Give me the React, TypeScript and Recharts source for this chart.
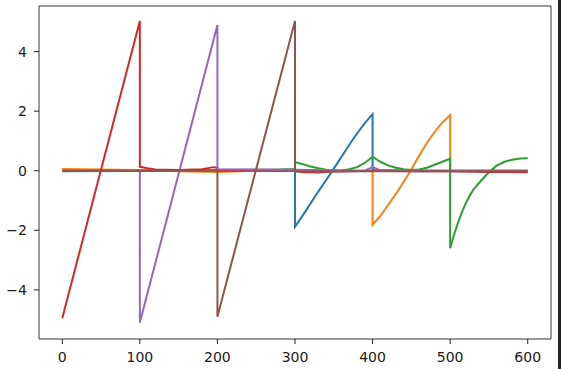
import { LineChart, Line, XAxis, YAxis, ReferenceArea } from 'recharts';

// tick positions and axis limits
const xTicks = [0, 100, 200, 300, 400, 500, 600];
const yTicks = [-4, -2, 0, 2, 4];
const xLim: [number, number] = [-30, 630];
const yLim: [number, number] = [-5.65, 5.53];

// each series as [x, y] points; repeated x = vertical jump
const blue: [number, number][] = [
  [0, -0.02], [100, -0.01], [200, 0], [300, 0],
  [300, -1.88], [310, -1.5], [320, -1.1], [330, -0.7], [340, -0.32], [350, 0.07],
  [360, 0.47], [370, 0.87], [380, 1.25], [390, 1.6], [400, 1.9],
  [400, 0.02], [450, 0], [500, 0], [600, 0],
];
const orange: [number, number][] = [
  [0, 0.06], [50, 0.04], [100, 0.02], [150, -0.02], [200, -0.04], [250, 0], [300, 0], [400, 0],
  [400, -1.82], [410, -1.52], [420, -1.15], [430, -0.78], [440, -0.38], [450, 0.05],
  [460, 0.5], [470, 0.93], [480, 1.3], [490, 1.62], [500, 1.87],
  [500, 0], [600, 0],
];
const green: [number, number][] = [
  [0, 0], [100, 0], [200, 0.02], [280, 0.04], [300, 0.06],
  [300, 0.29], [310, 0.22], [320, 0.14], [330, 0.08], [340, 0.03], [350, 0], [360, 0.01],
  [370, 0.05], [380, 0.12], [390, 0.26], [400, 0.47], [410, 0.3], [420, 0.18], [430, 0.1],
  [440, 0.05], [450, 0.02], [460, 0.04], [470, 0.1], [480, 0.2], [490, 0.3], [500, 0.4],
  [500, -2.6], [505, -2.15], [510, -1.75], [515, -1.4], [520, -1.1], [525, -0.85], [530, -0.63],
  [540, -0.33], [550, -0.05], [560, 0.17], [570, 0.3], [580, 0.37], [590, 0.41], [600, 0.42],
];
const red: [number, number][] = [
  [0, -4.95], [100, 5.03],
  [100, 0.13], [110, 0.08], [120, 0.04], [150, 0.02], [180, 0.05], [195, 0.12], [200, 0.1],
  [200, 0], [250, 0], [300, 0], [310, -0.05], [330, -0.06], [350, -0.03], [370, -0.02],
  [400, 0], [450, -0.02], [500, -0.02], [550, -0.04], [600, -0.05],
];
const purple: [number, number][] = [
  [0, 0], [100, 0],
  [100, -5.1], [200, 4.89],
  [200, 0.05], [300, 0.03], [390, 0], [400, 0.12], [410, 0.02], [500, 0], [600, 0],
];
const brown: [number, number][] = [
  [0, 0], [200, 0],
  [200, -4.9], [300, 5.03],
  [300, -0.03], [400, -0.02], [600, -0.02],
];

const series = [
  { name: 'blue', pts: blue, color: '#1f77b4' },
  { name: 'orange', pts: orange, color: '#ff7f0e' },
  { name: 'green', pts: green, color: '#2ca02c' },
  { name: 'red', pts: red, color: '#d62728' },
  { name: 'purple', pts: purple, color: '#9467bd' },
  { name: 'brown', pts: brown, color: '#8c564b' },
];

const font = { fontFamily: 'DejaVu Sans', fontSize: 14, fill: '#1a1a1a' };
const minus = (v: number) => String(v).replace('-', '\u2212');

export default function App() {
  return (
    <div style={{ position: 'absolute', left: 0, top: 0, width: 561, height: 369, background: '#fff' }}>
      <LineChart width={558} height={369} margin={{ top: 6, right: 7, bottom: 0, left: 0 }}>
        <XAxis
          dataKey="x"
          type="number"
          domain={xLim}
          ticks={xTicks}
          height={30}
          tickSize={5}
          tickMargin={8}
          tick={font}
          axisLine={false}
          tickLine={{ stroke: '#222' }}
          allowDataOverflow
        />
        <YAxis
          type="number"
          domain={yLim}
          ticks={yTicks}
          width={39}
          tickSize={5}
          tickMargin={7}
          tick={font}
          tickFormatter={minus}
          axisLine={false}
          tickLine={{ stroke: '#222' }}
          allowDataOverflow
        />
        {series.map((s) => (
          <Line
            key={s.name}
            data={s.pts.map(([x, y]) => ({ x, y }))}
            dataKey="y"
            stroke={s.color}
            strokeWidth={2}
            dot={false}
            activeDot={false}
            isAnimationActive={false}
          />
        ))}
        <ReferenceArea x1={xLim[0]} x2={xLim[1]} y1={yLim[0]} y2={yLim[1]} fill="none" stroke="#333" strokeWidth={1} ifOverflow="visible" />
      </LineChart>
      <div style={{ position: 'absolute', left: 558, top: 0, width: 3, height: 369, background: '#1f232b' }} />
    </div>
  );
}
